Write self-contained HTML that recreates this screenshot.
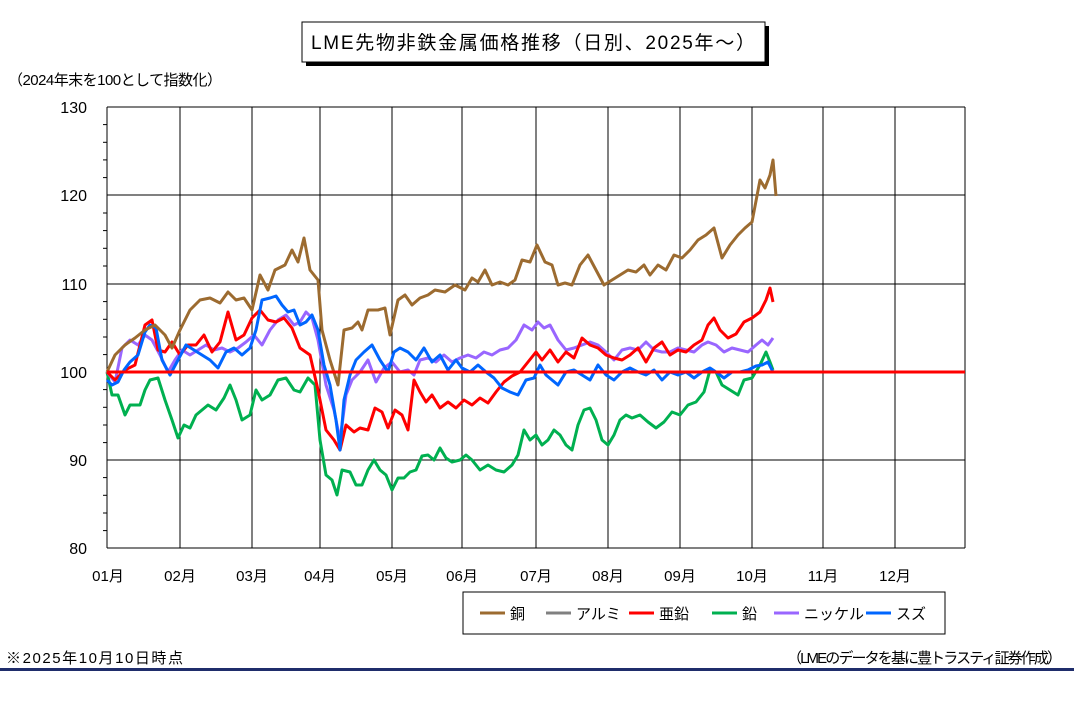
<!DOCTYPE html>
<html><head><meta charset="utf-8"><style>
body{margin:0;background:#fff;width:1074px;height:707px;overflow:hidden;font-family:"Liberation Sans","Noto Sans CJK JP",sans-serif;}
</style></head><body>
<svg width="1074" height="707" viewBox="0 0 1074 707" xmlns="http://www.w3.org/2000/svg" font-family="Liberation Sans, Noto Sans CJK JP, sans-serif">
<rect x="306" y="26" width="463" height="40" fill="#000"/>
<rect x="302" y="22" width="463" height="40" fill="#fff" stroke="#000" stroke-width="1"/>
<text x="533" y="49" font-size="19" text-anchor="middle" textLength="444">LME先物非鉄金属価格推移（日別、2025年～）</text>
<text x="8" y="85" font-size="15" textLength="214">（2024年末を100として指数化）</text>
<g stroke="#000" stroke-width="1">
<line x1="107" y1="107" x2="965" y2="107"/><line x1="107" y1="195" x2="965" y2="195"/>
<line x1="107" y1="284" x2="965" y2="284"/><line x1="107" y1="460" x2="965" y2="460"/>
<line x1="107" y1="548" x2="965" y2="548"/>
<line x1="180" y1="107" x2="180" y2="548"/><line x1="252" y1="107" x2="252" y2="548"/>
<line x1="320" y1="107" x2="320" y2="548"/><line x1="392" y1="107" x2="392" y2="548"/>
<line x1="462" y1="107" x2="462" y2="548"/><line x1="536" y1="107" x2="536" y2="548"/>
<line x1="608" y1="107" x2="608" y2="548"/><line x1="680" y1="107" x2="680" y2="548"/>
<line x1="752" y1="107" x2="752" y2="548"/><line x1="823" y1="107" x2="823" y2="548"/>
<line x1="895" y1="107" x2="895" y2="548"/><line x1="965" y1="107" x2="965" y2="548"/>
<line x1="107" y1="107" x2="107" y2="548"/>
</g>
<g stroke="#000" stroke-width="1">
<line x1="103" y1="124.6" x2="107" y2="124.6"/><line x1="103" y1="142.3" x2="107" y2="142.3"/><line x1="103" y1="159.9" x2="107" y2="159.9"/><line x1="103" y1="177.6" x2="107" y2="177.6"/>
<line x1="103" y1="213" x2="107" y2="213"/><line x1="103" y1="230.6" x2="107" y2="230.6"/><line x1="103" y1="248.3" x2="107" y2="248.3"/><line x1="103" y1="266" x2="107" y2="266"/>
<line x1="103" y1="301.6" x2="107" y2="301.6"/><line x1="103" y1="319.3" x2="107" y2="319.3"/><line x1="103" y1="337" x2="107" y2="337"/><line x1="103" y1="354.6" x2="107" y2="354.6"/>
<line x1="103" y1="389.6" x2="107" y2="389.6"/><line x1="103" y1="407.3" x2="107" y2="407.3"/><line x1="103" y1="425" x2="107" y2="425"/><line x1="103" y1="442.6" x2="107" y2="442.6"/>
<line x1="103" y1="477.6" x2="107" y2="477.6"/><line x1="103" y1="495.3" x2="107" y2="495.3"/><line x1="103" y1="513" x2="107" y2="513"/><line x1="103" y1="530.6" x2="107" y2="530.6"/>
</g>
<g font-size="16" text-anchor="end">
<text x="87" y="113">130</text><text x="87" y="201">120</text><text x="87" y="290">110</text>
<text x="87" y="378">100</text><text x="87" y="466">90</text><text x="87" y="554">80</text>
</g>
<g font-size="15" text-anchor="middle">
<text x="108" y="581">01月</text><text x="180" y="581">02月</text><text x="252" y="581">03月</text><text x="320" y="581">04月</text><text x="392" y="581">05月</text><text x="462" y="581">06月</text><text x="536" y="581">07月</text><text x="608" y="581">08月</text><text x="680" y="581">09月</text><text x="752" y="581">10月</text><text x="823" y="581">11月</text><text x="895" y="581">12月</text>
</g>
<g fill="none" stroke-width="3" stroke-linejoin="round">
<polyline stroke="#00b050" points="107,372 112,395 118,395 125,415 130,405 140,405 145,390 150,380 158,378 165,400 172,420 178,438 184,425 190,428 196,415 202,410 208,405 216,410 224,398 230,385 236,400 242,420 250,415 256,390 262,400 270,395 278,380 286,378 294,390 300,392 308,378 315,385 320,440 326,475 332,480 337,495 342,470 350,472 356,485 362,485 368,470 374,460 380,470 386,475 392,490 398,478 404,478 410,472 416,470 422,456 428,455 434,460 440,448 446,458 452,462 460,460 466,455 472,460 480,470 488,465 496,470 504,472 512,465 518,455 524,430 530,440 536,435 542,445 548,440 554,430 560,435 566,445 572,450 578,425 584,410 590,408 596,420 602,440 608,445 614,435 620,420 626,415 632,418 640,415 648,422 656,428 664,422 672,412 680,415 688,405 696,402 704,392 710,370 716,372 722,385 730,390 738,395 744,380 752,378 760,365 766,352 770,362 773,370"/>
<polyline stroke="#9966ff" points="107,372 115,382 122,348 130,340 138,345 145,335 152,340 160,355 168,372 175,360 182,350 190,355 198,350 206,345 214,350 222,348 230,352 238,348 246,342 254,335 262,345 270,330 278,320 286,315 294,325 300,322 306,312 312,318 318,340 326,385 334,410 340,440 346,395 352,380 360,372 368,360 376,382 384,368 392,362 400,372 408,370 414,375 420,360 428,358 436,362 444,355 452,362 460,358 468,355 476,358 484,352 492,355 500,350 508,348 516,340 524,325 532,330 538,322 544,328 550,325 558,340 566,350 574,348 582,345 590,342 598,345 606,352 614,360 622,350 630,348 638,350 646,342 654,350 662,352 670,352 678,348 686,350 694,352 702,345 708,342 716,345 724,352 732,348 740,350 748,352 756,345 762,340 768,345 773,338"/>
<polyline stroke="#ff0000" points="107,372 115,380 125,370 135,365 145,325 152,320 158,350 165,352 172,342 180,355 188,345 196,345 204,335 212,352 220,342 228,312 236,340 244,335 252,318 260,310 268,320 276,322 284,318 292,328 300,348 310,355 318,390 326,430 334,440 340,450 346,425 354,432 360,428 368,430 375,408 382,412 388,428 395,410 402,415 408,430 414,380 420,392 426,402 432,395 440,408 448,402 456,408 464,400 472,405 480,398 488,403 496,392 504,382 512,376 520,372 528,362 536,352 542,360 550,350 558,362 566,352 574,358 582,338 590,345 598,348 606,355 614,358 622,360 630,355 638,348 646,362 654,348 662,342 670,355 678,350 686,352 694,345 702,340 708,325 714,318 720,330 728,338 736,334 744,322 752,318 760,312 766,300 770,288 773,302"/>
<polyline stroke="#0066ff" points="107,380 112,385 118,382 124,370 130,362 138,355 145,332 150,325 156,328 162,360 170,375 178,360 186,345 194,350 202,355 210,360 218,368 226,352 234,348 242,355 250,348 256,330 262,300 270,298 276,296 282,305 288,312 294,310 300,325 306,322 312,315 318,330 324,365 330,385 336,420 340,450 344,400 350,375 356,360 364,352 372,345 380,360 388,372 394,352 400,348 408,352 416,360 424,348 432,362 440,355 448,370 456,360 462,368 470,372 478,365 486,372 494,378 502,388 510,392 518,395 526,380 534,378 540,365 546,375 552,380 558,385 566,372 574,370 582,375 590,380 598,365 606,375 614,380 622,372 630,368 638,372 646,375 654,370 662,380 670,372 678,375 686,372 694,378 702,372 710,368 716,372 724,378 732,372 740,372 748,370 756,366 762,365 768,362 773,372"/>
<polyline stroke="#9c6b30" points="107,372 115,355 125,345 135,338 145,330 155,325 165,335 172,348 180,330 190,310 200,300 210,298 220,303 228,292 236,300 244,298 252,310 260,275 268,290 275,270 285,265 292,250 298,262 304,238 310,270 318,280 322,330 330,360 338,385 344,330 352,328 358,322 362,330 368,310 378,310 385,308 390,335 398,300 405,295 412,305 420,298 428,295 435,290 445,292 455,285 465,290 472,278 478,282 485,270 492,285 500,282 508,285 515,280 522,260 530,262 537,245 545,262 552,265 558,285 565,283 572,285 580,265 588,255 596,270 604,285 612,280 620,275 628,270 636,272 644,265 650,275 658,265 666,270 674,255 682,258 690,250 698,240 706,235 714,228 722,258 730,245 738,235 745,228 752,222 760,180 765,188 770,175 773,160 776,196"/>
</g>
<line x1="107" y1="372" x2="965" y2="372" stroke="#ff0000" stroke-width="3"/>
<rect x="463" y="592" width="482" height="42" fill="#fff" stroke="#000"/>
<g stroke-width="3">
<line x1="480" y1="613" x2="505" y2="613" stroke="#9c6b30"/>
<line x1="546" y1="613" x2="571" y2="613" stroke="#808080"/>
<line x1="629" y1="613" x2="654" y2="613" stroke="#ff0000"/>
<line x1="712" y1="613" x2="737" y2="613" stroke="#00b050"/>
<line x1="774" y1="613" x2="799" y2="613" stroke="#9966ff"/>
<line x1="866" y1="613" x2="891" y2="613" stroke="#0066ff"/>
</g>
<g font-size="15">
<text x="510" y="619">銅</text><text x="576" y="619">アルミ</text><text x="659" y="619">亜鉛</text><text x="742" y="619">鉛</text><text x="804" y="619">ニッケル</text><text x="896" y="619">スズ</text>
</g>
<text x="6" y="663" font-size="15" textLength="177">※2025年10月10日時点</text>
<text x="1062" y="663" font-size="15" text-anchor="end" textLength="275">（LMEのデータを基に豊トラスティ証券作成）</text>
<rect x="0" y="668" width="1074" height="3" fill="#1f2d6b"/>
</svg>
</body></html>
